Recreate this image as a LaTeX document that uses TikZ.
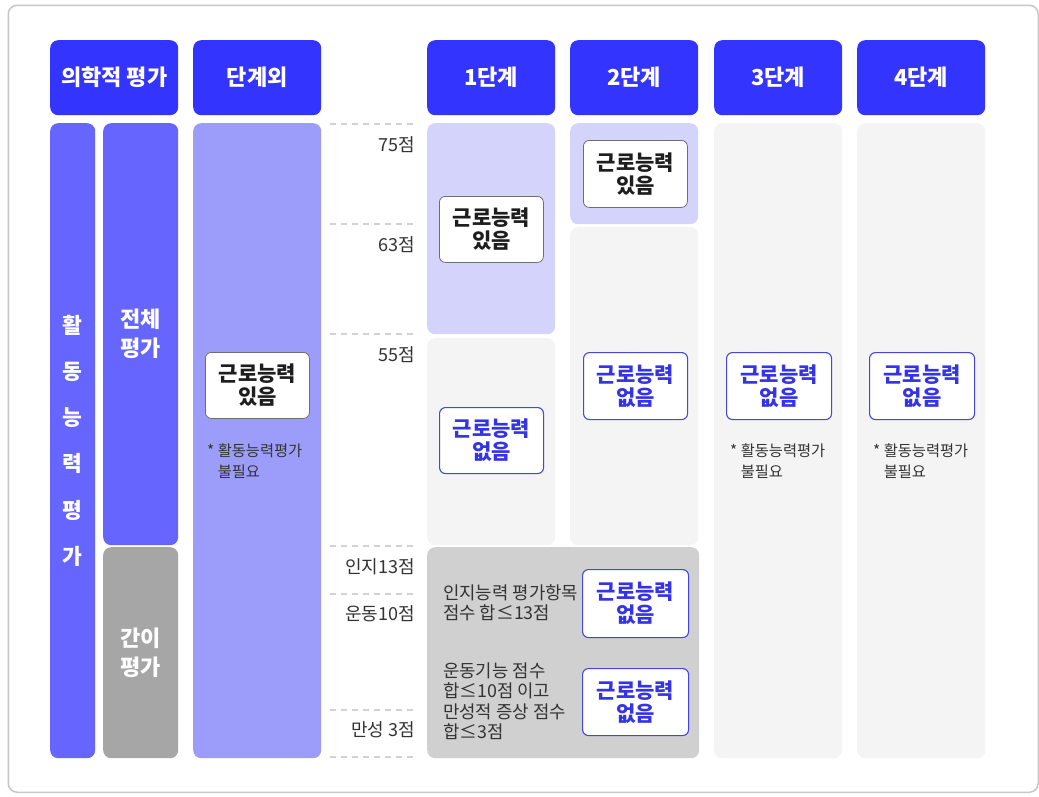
\documentclass[tikz,border=0pt]{standalone}
\usepackage{fontspec}
\setmainfont{Noto Sans CJK KR}
\definecolor{hblue}{HTML}{3434FF}
\definecolor{midblue}{HTML}{6666FF}
\definecolor{outblue}{HTML}{9C9CFA}
\definecolor{lav}{HTML}{D3D3FB}
\definecolor{lgray}{HTML}{F4F4F4}
\definecolor{mgray}{HTML}{A6A6A6}
\definecolor{rgray}{HTML}{D0D0D0}
\definecolor{txtdark}{HTML}{1E1E1E}
\definecolor{txtblue}{HTML}{3434E6}
\definecolor{boxblue}{HTML}{4646DC}
\definecolor{boxgray}{HTML}{6E6E6E}
\definecolor{lblgray}{HTML}{333333}
\definecolor{dashgray}{HTML}{D2D2D2}
\newcommand\mkbox[7]{\node[#2, anchor=north west, minimum width={#5-#3}, minimum height={#6-#4}] (#1) at (#3,#4) {#7};}
\begin{document}
\begin{tikzpicture}[x=1pt,y=-1pt,
  hdr/.style={fill=hblue, rounded corners=8pt, text=white, inner sep=0pt, font=\fontsize{22}{24}\selectfont\bfseries},
  col/.style={rounded corners=8pt, inner sep=0pt, align=center},
  res/.style={fill=white, rounded corners=6pt, align=center, inner sep=0pt, font=\fontsize{21}{23}\selectfont\bfseries},
  yesbox/.style={res, draw=boxgray, line width=0.8pt, text=txtdark},
  nobox/.style={res, draw=boxblue, line width=1.1pt, text=txtblue},
  lbl/.style={anchor=east, inner sep=0pt, font=\fontsize{18}{20}\selectfont, text=lblgray},
  notetxt/.style={anchor=north west, inner sep=0pt, align=left, font=\fontsize{15.3}{21}\selectfont, text=lblgray},
  rtxt/.style={anchor=west, inner sep=0pt, align=left, font=\fontsize{17.8}{20.5}\selectfont, text=lblgray},
  dline/.style={draw=dashgray, line width=1.2pt, dash pattern=on 6pt off 5pt}]
\useasboundingbox (0,0) rectangle (1039,796);
\node[draw=black!22, line width=1.5pt, fill=white, rounded corners=9pt, anchor=north west, minimum width=1030pt, minimum height=787pt, inner sep=0pt] (card) at (7.5,4.5) {};
% headers
\mkbox{h0}{hdr}{50}{40}{178}{115}{의학적 평가}
\mkbox{h1}{hdr}{193}{40}{321}{115}{단계외}
\mkbox{h2}{hdr}{427}{40}{555}{115}{1단계}
\mkbox{h3}{hdr}{570}{40}{698}{115}{2단계}
\mkbox{h4}{hdr}{714}{40}{842}{115}{3단계}
\mkbox{h5}{hdr}{857}{40}{985}{115}{4단계}
% left columns
\mkbox{act}{col, fill=midblue, text=white, font=\fontsize{21.5}{46.2}\selectfont\bfseries}{50}{123}{95}{758}{활\\동\\능\\력\\평\\가}
\mkbox{full}{col, fill=midblue, text=white, font=\fontsize{22}{29}\selectfont\bfseries}{103}{123}{178}{545}{전체\\평가}
\mkbox{simple}{col, fill=mgray, text=white, font=\fontsize{22}{29}\selectfont\bfseries}{103}{547}{178}{758}{간이\\평가}
\mkbox{outc}{col, fill=outblue}{193}{123}{321}{758}{}
% stage columns
\mkbox{s1a}{col, fill=lav}{427}{123}{555}{334}{}
\mkbox{s1b}{col, fill=lgray}{427}{338}{555}{545}{}
\mkbox{s2a}{col, fill=lav}{570}{123}{698}{224}{}
\mkbox{s2b}{col, fill=lgray}{570}{227}{698}{545}{}
\mkbox{s3}{col, fill=lgray}{714}{123}{842}{758}{}
\mkbox{s4}{col, fill=lgray}{857}{123}{985}{758}{}
\mkbox{simp}{col, fill=rgray}{427}{547}{699}{758}{}
% dashed score lines
\foreach \yy/\nm in {124/d1,224/d2,334/d3,546/d4,594/d5,710/d6,757/d7}{
  \coordinate (\nm a) at (330,\yy); \coordinate (\nm b) at (418,\yy);
  \draw[dline] (\nm a) -- (\nm b);}
\node[lbl] (l75) at (415,145) {75점};
\node[lbl] (l63) at (415,245) {63점};
\node[lbl] (l55) at (415,355) {55점};
\node[lbl] (l13) at (415,567) {인지13점};
\node[lbl] (l10) at (415,614) {운동10점};
\node[lbl] (l3) at (415,730) {만성 3점};
% result boxes
\mkbox{r0}{yesbox}{205}{352}{309}{418}{근로능력\\있음}
\mkbox{r1}{yesbox}{439}{196}{543}{262}{근로능력\\있음}
\mkbox{r2}{nobox}{439}{407}{543}{473}{근로능력\\없음}
\mkbox{r3}{yesbox}{583}{140}{687}{207}{근로능력\\있음}
\mkbox{r4}{nobox}{583}{352}{687}{419}{근로능력\\없음}
\mkbox{r5}{nobox}{726}{352}{831}{419}{근로능력\\없음}
\mkbox{r6}{nobox}{869}{352}{974}{419}{근로능력\\없음}
\mkbox{r7}{nobox}{582}{569}{688}{637}{근로능력\\없음}
\mkbox{r8}{nobox}{582}{668}{688}{735}{근로능력\\없음}
% notes
\node[notetxt] (n0) at (207,444) {* 활동능력평가\\\hphantom{* }불필요};
\node[notetxt] (n1) at (730,444) {* 활동능력평가\\\hphantom{* }불필요};
\node[notetxt] (n2) at (873,444) {* 활동능력평가\\\hphantom{* }불필요};
% simple evaluation texts
\node[rtxt] (t1) at (443,603) {인지능력 평가항목\\점수 합≤13점};
\node[rtxt] (t2) at (443,701) {운동기능 점수\\합≤10점 이고\\만성적 증상 점수\\합≤3점};
\end{tikzpicture}
\end{document}
